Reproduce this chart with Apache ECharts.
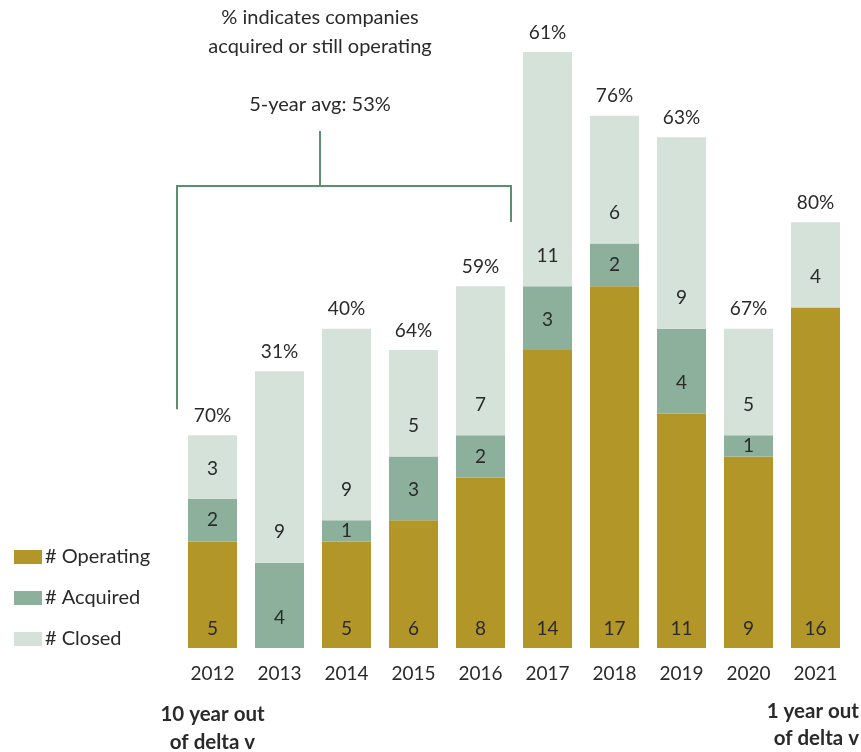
<!DOCTYPE html>
<html>
<head>
<meta charset="utf-8">
<script src="https://cdn.jsdelivr.net/npm/echarts@6/dist/echarts.min.js"></script>
<style>
  html, body { margin: 0; padding: 0; background: #ffffff; }
  #chart { width: 861px; height: 752px; }
</style>
</head>
<body>
<div id="chart"></div>
<script>
// Startup cohorts by year: what happened to the companies
var years = ['2012', '2013', '2014', '2015', '2016', '2017', '2018', '2019', '2020', '2021'];
var operatingCount = [5, 0, 5, 6, 8, 14, 17, 11, 9, 16];
var acquiredCount = [2, 4, 1, 3, 2, 3, 2, 4, 1, 0];
var closedCount = [3, 9, 9, 5, 7, 11, 6, 9, 5, 4];
// share of companies acquired or still operating
var survivalPct = ['70%', '31%', '40%', '64%', '59%', '61%', '76%', '63%', '67%', '80%'];

var TEXT = '#2a2a2a';
var FONT = 'Lato, "Open Sans", sans-serif';
var COLORS = { op: '#b29628', acq: '#8db09c', closed: '#d4e2d9' };
var BRACKET = '#5b8f6e';

function segmentData(values) {
  return values.map(function (v) {
    var lbl = v >= 3
      ? { position: 'insideBottom', distance: 21 }
      : { position: 'inside' };
    return { value: v, label: lbl };
  });
}

var chart = echarts.init(document.getElementById('chart'), null, { renderer: 'canvas' });

var valueLabel = {
  show: true,
  color: TEXT,
  fontFamily: FONT,
  fontSize: 19,
  formatter: function (p) { return p.value > 0 ? String(p.value) : ''; }
};

var option = {
  animation: false,
  textStyle: { fontFamily: FONT },
  grid: { left: 179, right: 12, top: 52, bottom: 104, containLabel: false },
  legend: {
    data: ['# Operating', '# Acquired', '# Closed'],
    orient: 'vertical',
    left: 9,
    top: 542,
    itemWidth: 28,
    itemHeight: 14,
    itemGap: 21,
    icon: 'rect',
    selectedMode: false,
    textStyle: { color: TEXT, fontSize: 20, fontFamily: FONT, padding: [0, 0, 0, -2] }
  },
  xAxis: {
    type: 'category',
    data: years,
    axisLine: { show: false },
    axisTick: { show: false },
    axisLabel: { color: TEXT, fontSize: 19, fontFamily: FONT, margin: 16 }
  },
  yAxis: {
    type: 'value',
    min: 0,
    max: 28,
    show: false,
    splitLine: { show: false }
  },
  series: [
    {
      name: '# Operating', type: 'bar', stack: 'cohort', barWidth: 49,
      itemStyle: { color: COLORS.op },
      label: Object.assign({}, valueLabel, { position: 'insideBottom', distance: 10 }),
      data: operatingCount.map(function (v) { return { value: v }; })
    },
    {
      name: '# Acquired', type: 'bar', stack: 'cohort', barWidth: 49,
      itemStyle: { color: COLORS.acq },
      label: valueLabel,
      data: segmentData(acquiredCount)
    },
    {
      name: '# Closed', type: 'bar', stack: 'cohort', barWidth: 49,
      itemStyle: { color: COLORS.closed },
      label: valueLabel,
      data: segmentData(closedCount)
    },
    {
      // zero-height cap carrying the percentage label above each bar
      name: 'pct', type: 'bar', stack: 'cohort', barWidth: 49, silent: true,
      itemStyle: { color: 'transparent' },
      label: {
        show: true, position: 'top', distance: 10,
        color: TEXT, fontSize: 19, fontFamily: FONT,
        formatter: function (p) { return survivalPct[p.dataIndex]; }
      },
      data: years.map(function () { return 0; })
    }
  ]
};

chart.setOption(option);

// Bracket spanning the 2012-2016 cohorts, plus the notes above and below
function total(i) { return operatingCount[i] + acquiredCount[i] + closedCount[i]; }
var halfBar = 49 / 2;
var x2012 = chart.convertToPixel({ xAxisIndex: 0 }, years[0]);
var x2016 = chart.convertToPixel({ xAxisIndex: 0 }, years[4]);
var yTop2012 = chart.convertToPixel({ yAxisIndex: 0 }, total(0));
var yTop2016 = chart.convertToPixel({ yAxisIndex: 0 }, total(4));
var bx0 = x2012 - halfBar - 11;
var bx1 = x2016 + halfBar + 6;
var by = 186;
var bmid = 320;
var NOTE_FONT = '20px ' + FONT;
var BOLD_FONT = 'bold 20.5px ' + FONT;

chart.setOption({
  graphic: [
    {
      type: 'polyline',
      shape: { points: [[bx0, yTop2012 - 26], [bx0, by], [bx1, by], [bx1, Math.min(yTop2016 - 7, 222)]] },
      style: { stroke: BRACKET, lineWidth: 2, fill: null }
    },
    {
      type: 'line',
      shape: { x1: bmid, y1: by, x2: bmid, y2: 131 },
      style: { stroke: BRACKET, lineWidth: 2 }
    },
    {
      type: 'text', x: bmid, y: 18,
      style: { text: '% indicates companies', fill: TEXT, font: NOTE_FONT, textAlign: 'center', textVerticalAlign: 'middle' }
    },
    {
      type: 'text', x: bmid, y: 47,
      style: { text: 'acquired or still operating', fill: TEXT, font: NOTE_FONT, textAlign: 'center', textVerticalAlign: 'middle' }
    },
    {
      type: 'text', x: bmid, y: 105,
      style: { text: '5-year avg: 53%', fill: TEXT, font: NOTE_FONT, textAlign: 'center', textVerticalAlign: 'middle' }
    },
    {
      type: 'text', x: x2012, y: 714,
      style: { text: '10 year out', fill: TEXT, font: BOLD_FONT, textAlign: 'center', textVerticalAlign: 'middle' }
    },
    {
      type: 'text', x: x2012, y: 742,
      style: { text: 'of delta v', fill: TEXT, font: BOLD_FONT, textAlign: 'center', textVerticalAlign: 'middle' }
    },
    {
      type: 'text', x: 859, y: 711,
      style: { text: '1 year out', fill: TEXT, font: BOLD_FONT, textAlign: 'right', textVerticalAlign: 'middle' }
    },
    {
      type: 'text', x: 859, y: 738,
      style: { text: 'of delta v', fill: TEXT, font: BOLD_FONT, textAlign: 'right', textVerticalAlign: 'middle' }
    }
  ]
});
</script>
</body>
</html>
